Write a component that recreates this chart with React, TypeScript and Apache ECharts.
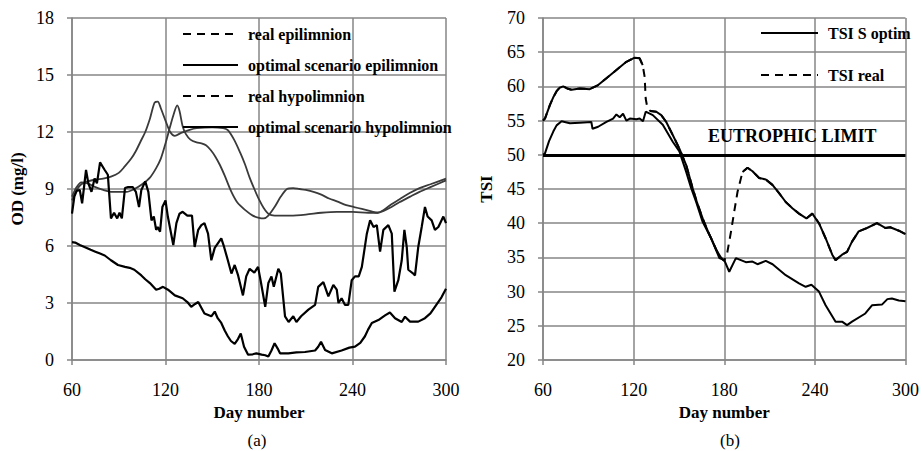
import React, { useEffect, useRef } from 'react';
import * as echarts from 'echarts';

// ---------- Data: chart (a) OD (mg/l) ----------
const xTicks = [60, 120, 180, 240, 300];
const odTicks = [0, 3, 6, 9, 12, 15, 18];
const tsiTicks = [20, 25, 30, 35, 40, 45, 50, 55, 60, 65, 70];

const realEpiDays = [60, 63, 66, 70, 75, 80, 85, 90, 94, 98, 101, 104, 107, 110, 113, 115, 117, 120, 123, 126, 130, 135, 140, 150, 157, 160, 164, 168, 171, 174, 177, 180, 183, 186, 190, 200, 210, 220, 230, 240, 250, 256, 260, 265, 270, 277, 283, 290, 300];
const realEpiValues = [8.4, 8.95, 9.25, 9.4, 9.5, 9.55, 9.65, 9.85, 10.2, 10.6, 11.0, 11.5, 12.0, 12.7, 13.55, 13.6, 13.25, 12.6, 12.0, 11.8, 11.95, 12.1, 12.2, 12.25, 12.2, 12.1, 11.6, 10.9, 10.3, 9.6, 9.0, 8.45, 8.0, 7.7, 7.6, 7.6, 7.65, 7.75, 7.8, 7.8, 7.75, 7.75, 7.9, 8.2, 8.45, 8.8, 9.05, 9.25, 9.55];

const optEpiDays = [60, 63, 66, 70, 75, 80, 85, 90, 95, 100, 105, 110, 114, 117, 120, 123, 125.5, 127.5, 129, 131, 133, 136, 140, 143, 146, 149, 152, 155, 158, 162, 166, 171, 176, 180, 183, 186, 190, 194, 198, 202, 206, 210, 215, 220, 225, 230, 236, 241, 246, 251, 256, 260, 265, 270, 277, 283, 290, 300];
const optEpiValues = [8.6, 9.1, 9.35, 9.3, 9.1, 8.95, 8.85, 8.85, 8.85, 9.0, 9.25, 9.6, 10.1, 10.6, 11.4, 12.3, 13.0, 13.4, 13.1, 12.3, 11.9, 11.6, 11.45, 11.4, 11.3, 11.05, 10.7, 10.25, 9.7, 8.9, 8.3, 7.9, 7.6, 7.48, 7.45, 7.6, 8.05, 8.6, 9.0, 9.05, 9.0, 8.95, 8.85, 8.7, 8.5, 8.35, 8.15, 8.05, 7.95, 7.85, 7.75, 7.85, 8.05, 8.3, 8.6, 8.85, 9.1, 9.45];

const realHypoDays = [60, 61.5, 63, 65, 66.5, 69, 70.5, 72.5, 74.5, 76, 78, 81, 83, 85, 87, 89, 90.5, 92, 94, 96, 99, 101, 103, 104.5, 107, 109, 111, 112.5, 114, 115, 116.5, 118, 120, 121.5, 125, 127, 129, 131, 134, 137, 138.7, 141, 143, 145, 147.3, 149.4, 151.6, 153.7, 155.8, 157.6, 160, 162.3, 164.4, 166.6, 169.7, 171.8, 174, 177, 179.4, 181, 184, 186, 188, 189.5, 192.4, 194, 196.7, 199, 202, 204, 207, 211.7, 216, 218, 221.3, 224.5, 227.7, 229.9, 231, 233, 235.2, 237.3, 239.5, 241.6, 244, 246, 249.2, 251.3, 253.5, 255.6, 257.7, 259.8, 263, 265.2, 266.9, 269.4, 271.6, 273.3, 274.8, 275.8, 279, 280.1, 282.2, 284.4, 286.5, 288.2, 290.8, 292.9, 295.1, 298.3, 300];
const realHypoValues = [7.7, 8.6, 8.9, 8.95, 8.25, 10.0, 9.3, 8.85, 9.55, 9.3, 10.4, 10.0, 9.75, 7.45, 7.75, 7.45, 7.75, 7.45, 9.05, 9.1, 9.1, 8.85, 8.05, 8.95, 9.4, 8.85, 7.35, 7.55, 6.85, 7.0, 6.75, 8.05, 8.4, 7.55, 6.05, 7.2, 7.7, 7.8, 7.6, 7.6, 5.95, 6.85, 7.1, 7.2, 6.65, 5.25, 5.9, 6.15, 6.4, 5.95, 5.25, 4.55, 5.0, 4.45, 3.4, 4.4, 4.8, 4.6, 4.9, 4.2, 2.8, 4.05, 4.4, 3.85, 4.8, 4.55, 2.3, 2.0, 2.3, 2.0, 2.3, 2.65, 2.9, 3.85, 4.1, 3.35, 3.95, 3.7, 3.0, 3.25, 2.9, 2.9, 4.2, 4.4, 4.4, 4.9, 6.65, 7.35, 7.0, 7.1, 5.7, 6.85, 7.1, 6.65, 3.6, 4.2, 5.25, 6.85, 5.95, 4.75, 4.55, 4.45, 5.95, 7.0, 8.05, 7.55, 7.35, 6.85, 7.0, 7.55, 7.2];

const optHypoDays = [60, 62, 65, 68, 72, 75, 78, 81, 85, 89.5, 94, 97, 100, 104.5, 107, 110, 114, 116, 118.4, 121.6, 126, 131, 134, 136.5, 139, 141, 143, 145, 149.4, 151.6, 153.5, 155.8, 158, 160, 162, 164.4, 166.5, 168.3, 170.4, 173, 176, 178.3, 181.7, 184, 186, 188, 190, 192, 193.5, 198.8, 204, 209.5, 216, 218, 219.8, 222.4, 226.7, 233, 238, 241.6, 245, 248, 250, 252.4, 256.6, 260.9, 264, 267.3, 271.6, 273.7, 276.9, 282.2, 286.5, 290, 292.9, 297.1, 300];
const optHypoValues = [6.2, 6.18, 6.05, 5.95, 5.8, 5.7, 5.6, 5.5, 5.25, 5.0, 4.9, 4.85, 4.75, 4.45, 4.25, 4.05, 3.7, 3.75, 3.85, 3.7, 3.4, 3.25, 3.05, 2.8, 2.95, 3.05, 2.75, 2.45, 2.3, 2.55, 2.2, 1.95, 1.55, 1.25, 1.0, 0.85, 1.1, 1.4, 0.7, 0.28, 0.3, 0.35, 0.28, 0.25, 0.18, 0.5, 0.88, 0.6, 0.35, 0.35, 0.4, 0.42, 0.5, 0.7, 0.96, 0.53, 0.35, 0.5, 0.65, 0.7, 0.9, 1.25, 1.6, 1.95, 2.1, 2.35, 2.5, 2.2, 2.0, 2.28, 2.02, 2.02, 2.2, 2.45, 2.8, 3.3, 3.75];

// ---------- Data: chart (b) TSI ----------
const tsiRealDays = [60, 61.3, 64.6, 67, 69, 71, 73.4, 76, 78.9, 84.4, 91, 96.5, 102, 108.6, 115.2, 120.7, 124, 126, 127.3, 128, 129, 131, 135, 138.3, 141.6, 145.9, 150.3, 154.8, 159.1, 162, 165.7, 169, 172.3, 175, 178, 180, 182, 184.5, 186.6, 188.8, 192.1, 195.4, 198.7, 203.1, 207.5, 211.9, 216.3, 220.7, 225.1, 229.5, 234.4, 238.3, 242.7, 247.1, 251.5, 253.7, 258, 261.3, 264.6, 269, 274.5, 281.1, 286.6, 289.9, 295.6, 300];
const tsiRealValues = [55.0, 55.3, 57.3, 58.5, 59.3, 59.8, 60.0, 59.7, 59.5, 59.7, 59.6, 60.2, 61.2, 62.4, 63.6, 64.2, 64.1, 63.1, 61.4, 58.2, 57.0, 56.4, 56.3, 55.8, 54.8, 52.9, 50.9, 48.5, 45.1, 43.0, 40.7, 38.9, 37.3, 36.0, 34.9, 34.5, 35.7, 38.8, 41.7, 44.6, 47.5, 48.1, 47.6, 46.6, 46.4, 45.6, 44.4, 43.1, 42.2, 41.4, 40.7, 41.4, 40.0, 37.8, 35.4, 34.6, 35.4, 35.8, 37.3, 38.8, 39.3, 40.0, 39.3, 39.4, 38.9, 38.4];
// day ranges where the "real" curve is only drawn dashed
const tsiRealDashedSpans = [[126.5, 130.5], [181, 191]];

const tsiOptDays = [60, 61.3, 64, 66.8, 69, 72.3, 77.8, 84.4, 92, 92.8, 96.5, 102, 106.4, 108.6, 110.8, 113, 115.2, 117.5, 121.8, 124, 126.2, 128, 132.7, 139.3, 145.9, 150.3, 154.8, 158, 161.4, 165.7, 171.3, 176.8, 180, 183.3, 187.7, 194.3, 198.7, 202, 207.5, 212, 220.7, 229.5, 233.9, 237.7, 242.7, 247.1, 253.7, 258, 261.3, 264.6, 273.4, 277.8, 284.4, 288, 291, 295.6, 300];
const tsiOptValues = [50.0, 50.2, 52.0, 53.4, 54.3, 54.9, 54.6, 54.7, 54.8, 53.8, 54.1, 54.8, 55.3, 55.9, 55.5, 56.0, 55.0, 55.3, 55.2, 55.3, 54.9, 56.3, 55.8, 54.4, 51.9, 50.5, 47.5, 45.2, 43.1, 40.2, 37.8, 34.9, 34.6, 32.9, 34.9, 34.3, 34.4, 34.0, 34.5, 34.0, 32.4, 31.2, 30.7, 31.0, 30.0, 28.0, 25.6, 25.6, 25.1, 25.6, 26.8, 28.0, 28.1, 28.9, 29.0, 28.7, 28.6];
const eutrophicLimit = 50;

const zip = (d: number[], v: number[]) => d.map((x, i) => [x, v[i]]);

const FONT = '"Liberation Serif", "Times New Roman", serif';
const GRID_COLOR = '#868686';

function xAxisCfg(gridIndex: number) {
  return {
    type: 'value', gridIndex, min: xTicks[0], max: xTicks[xTicks.length - 1], interval: xTicks[1] - xTicks[0],
    name: 'Day number', nameLocation: 'middle', nameGap: 43,
    nameTextStyle: { fontFamily: FONT, fontWeight: 'bold', fontSize: 17, color: '#000' },
    axisLine: { show: true, onZero: false, lineStyle: { color: GRID_COLOR, width: 1.5 } },
    axisTick: { show: true, length: 5, lineStyle: { color: GRID_COLOR, width: 1.5 } },
    axisLabel: { fontFamily: FONT, fontSize: 18, color: '#000', margin: 21 },
    splitLine: { show: true, lineStyle: { color: GRID_COLOR, width: 1.5 } },
  };
}
function yAxisCfg(gridIndex: number, ticks: number[], name: string, nameGap: number) {
  return {
    type: 'value', gridIndex, min: ticks[0], max: ticks[ticks.length - 1], interval: ticks[1] - ticks[0],
    name, nameLocation: 'middle', nameGap,
    nameTextStyle: { fontFamily: FONT, fontWeight: 'bold', fontSize: 17, color: '#000' },
    axisLine: { show: true, lineStyle: { color: GRID_COLOR, width: 1.5 } },
    axisTick: { show: true, length: 5, lineStyle: { color: GRID_COLOR, width: 1.5 } },
    axisLabel: { fontFamily: FONT, fontSize: 18, color: '#000', margin: 18 },
    splitLine: { show: true, lineStyle: { color: GRID_COLOR, width: 1.5 } },
  };
}

const inDashed = (d: number) => tsiRealDashedSpans.some(([a, b]) => d > a && d < b);

const EPI_COLOR = '#3a3a3a';
const DASH = [8, 6];

const legendText = { fontFamily: FONT, fontWeight: 'bold', fontSize: 16, color: '#000', padding: [0, 0, 0, 5] };
const hiddenSymbol = { opacity: 0 };

const option = {
  animation: false,
  backgroundColor: '#fff',
  grid: [
    { left: 72, top: 18, width: 374, height: 342 },
    { left: 543, top: 18, width: 364, height: 342 },
  ],
  xAxis: [xAxisCfg(0), xAxisCfg(1)],
  yAxis: [yAxisCfg(0, odTicks, 'OD (mg/l)', 46), yAxisCfg(1, tsiTicks, 'TSI', 48)],
  legend: [
    {
      orient: 'vertical', left: 182, top: 26, padding: 0, itemWidth: 55, itemHeight: 16, itemGap: 15,
      selectedMode: false, textStyle: legendText, itemStyle: hiddenSymbol,
      data: [
        { name: 'real epilimnion', lineStyle: { type: DASH, color: '#000', width: 2 } },
        { name: 'optimal scenario epilimnion', lineStyle: { color: '#000', width: 2 } },
        { name: 'real hypolimnion', lineStyle: { type: DASH, color: '#000', width: 2 } },
        { name: 'optimal scenario hypolimnion', lineStyle: { color: '#000', width: 2 } },
      ],
    },
    {
      orient: 'vertical', left: 760, top: 25, padding: 0, itemWidth: 57, itemHeight: 16, itemGap: 26,
      selectedMode: false, textStyle: legendText, itemStyle: hiddenSymbol,
      data: [
        { name: 'TSI S optim', lineStyle: { color: '#000', width: 2 } },
        { name: 'TSI real', lineStyle: { type: DASH, color: '#000', width: 2 } },
      ],
    },
  ],
  graphic: [
    { type: 'text', x: 257, y: 440, style: { text: '(a)', fill: '#000', font: `17px ${FONT}`, textAlign: 'center', verticalAlign: 'middle', textVerticalAlign: 'middle' } },
    { type: 'text', x: 730, y: 440, style: { text: '(b)', fill: '#000', font: `17px ${FONT}`, textAlign: 'center', verticalAlign: 'middle', textVerticalAlign: 'middle' } },
  ],
  series: [
    { type: 'line', name: 'real epilimnion', xAxisIndex: 0, yAxisIndex: 0, data: zip(realEpiDays, realEpiValues), symbol: 'none', smooth: 0.3, lineStyle: { color: EPI_COLOR, width: 1.8 }, itemStyle: { color: EPI_COLOR } },
    { type: 'line', name: 'optimal scenario epilimnion', xAxisIndex: 0, yAxisIndex: 0, data: zip(optEpiDays, optEpiValues), symbol: 'none', smooth: 0.3, lineStyle: { color: EPI_COLOR, width: 1.8 }, itemStyle: { color: EPI_COLOR } },
    { type: 'line', name: 'real hypolimnion', xAxisIndex: 0, yAxisIndex: 0, data: zip(realHypoDays, realHypoValues), symbol: 'none', lineStyle: { color: '#000', width: 2.2 }, itemStyle: { color: '#000' } },
    { type: 'line', name: 'optimal scenario hypolimnion', xAxisIndex: 0, yAxisIndex: 0, data: zip(optHypoDays, optHypoValues), symbol: 'none', lineStyle: { color: '#000', width: 2.2 }, itemStyle: { color: '#000' } },
    {
      type: 'line', name: 'TSI S optim', xAxisIndex: 1, yAxisIndex: 1, data: zip(tsiOptDays, tsiOptValues), symbol: 'none',
      lineStyle: { color: '#000', width: 2 }, itemStyle: { color: '#000' },
      markLine: {
        silent: true, symbol: 'none', animation: false,
        lineStyle: { color: '#000', width: 3, type: 'solid' },
        label: { show: true, formatter: 'EUTROPHIC LIMIT', position: 'insideEndTop', distance: [29, 10], fontFamily: FONT, fontSize: 18, fontWeight: 'bold', color: '#000' },
        data: [{ yAxis: eutrophicLimit }],
      },
    },
    { type: 'line', name: 'TSI real', xAxisIndex: 1, yAxisIndex: 1, data: zip(tsiRealDays, tsiRealValues), symbol: 'none', lineStyle: { color: '#000', width: 2, type: DASH }, itemStyle: { color: '#000' } },
    { type: 'line', name: 'TSI real (solid part)', xAxisIndex: 1, yAxisIndex: 1, data: tsiRealDays.map((d, i) => [d, inDashed(d) ? null : tsiRealValues[i]]), symbol: 'none', connectNulls: false, lineStyle: { color: '#000', width: 2 }, itemStyle: { color: '#000' } },
  ],
};

export default function App() {
  const ref = useRef<HTMLDivElement>(null);
  useEffect(() => {
    const chart = echarts.init(ref.current!, null, { renderer: 'svg' });
    chart.setOption(option as any);
    return () => chart.dispose();
  }, []);
  return <div ref={ref} style={{ position: 'fixed', left: 0, top: 0, width: 922, height: 451, background: '#fff' }} />;
}
